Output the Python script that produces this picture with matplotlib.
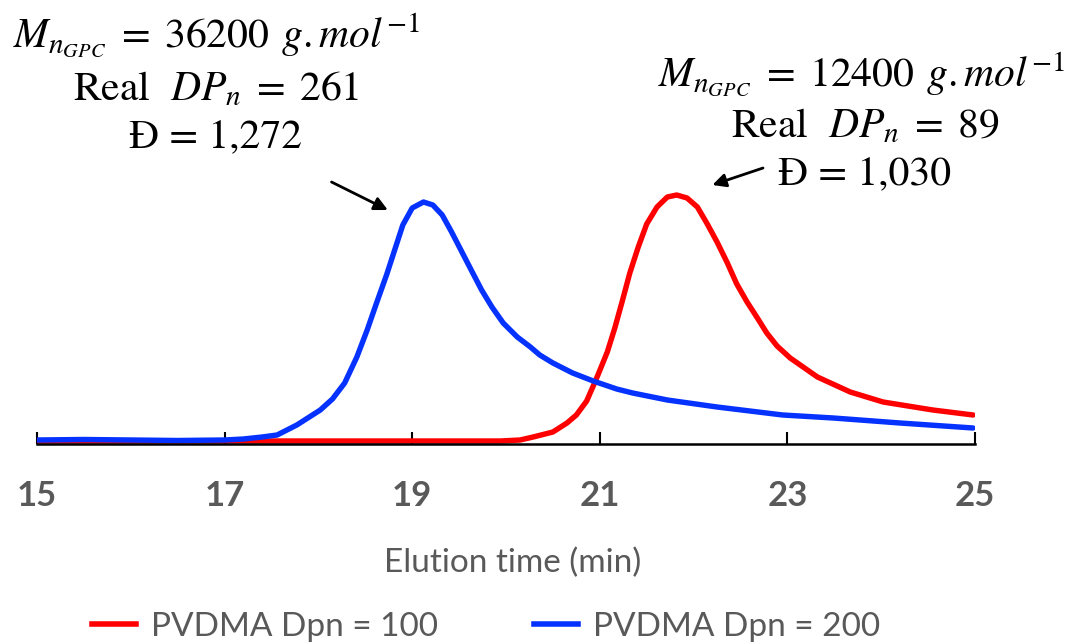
import matplotlib
matplotlib.use("Agg")
import matplotlib.pyplot as plt
from matplotlib.lines import Line2D

plt.rcParams['mathtext.fontset'] = 'stix'

# elution time (min) / detector signal (a.u.)
t_100 = [15.0, 16.0, 17.0, 18.0, 19.0, 19.94, 20.15, 20.29, 20.50, 20.65, 20.75, 20.86, 20.93,
         20.98, 21.08, 21.16, 21.24, 21.32, 21.41, 21.50, 21.61, 21.72, 21.82, 21.93, 22.04,
         22.14, 22.25, 22.36, 22.46, 22.57, 22.68, 22.78, 22.89, 23.03, 23.32, 23.67, 24.02,
         24.55, 24.98]
sig_100 = [0, 0, 0, 0, 0, 0, 1, 4, 9, 18, 26, 40, 55,
           66, 89, 113, 140, 168, 194, 217, 234, 244, 246, 243, 234,
           218, 199, 178, 157, 139, 123, 108, 95, 83, 64, 49, 39,
           31, 26]

t_200 = [15.0, 15.5, 16.0, 16.5, 17.0, 17.2, 17.4, 17.56, 17.77, 18.02, 18.15, 18.28, 18.41,
         18.52, 18.62, 18.73, 18.82, 18.90, 19.00, 19.12, 19.22, 19.32, 19.42, 19.53, 19.64,
         19.74, 19.85, 19.97, 20.12, 20.26, 20.36, 20.50, 20.71, 20.93, 21.18, 21.35, 21.72,
         22.25, 22.95, 23.49, 24.20, 24.98]
sig_200 = [1, 1.5, 1, 0.5, 1, 2, 4, 6, 16, 31, 42, 58, 84,
           111, 138, 167, 193, 216, 233, 239, 236, 226, 209, 189, 169,
           151, 134, 118, 104, 94, 86, 78, 68, 60, 52, 48, 41,
           34, 26, 23, 18, 13]

xticks = [15, 17, 19, 21, 23, 25]
labels = ["PVDMA Dpn = 100", "PVDMA Dpn = 200"]
colors = ["#ff0000", "#0532ff"]
grey = "#595959"

fig = plt.figure(figsize=(10.75, 6.44), dpi=100)
ax = fig.add_axes([37 / 1075, 200 / 644, 938 / 1075, 264 / 644])

ax.plot(t_100, sig_100, color=colors[0], lw=3.9, solid_joinstyle='round', solid_capstyle='round')
ax.plot(t_200, sig_200, color=colors[1], lw=3.9, solid_joinstyle='round', solid_capstyle='round')

ax.set_xlim(15, 25)
ax.set_ylim(-3, 261)
for s in ['top', 'right', 'left']:
    ax.spines[s].set_visible(False)
ax.spines['bottom'].set_linewidth(1.8)
ax.set_yticks([])
ax.set_xticks(xticks)
ax.tick_params(axis='x', direction='in', length=8.5, width=1.5, pad=26,
               labelsize=25, labelcolor=grey)
for lab in ax.get_xticklabels():
    lab.set_fontfamily('Lato')
    lab.set_fontweight('bold')

ax.set_xlabel("Elution time (min)", fontsize=24, color=grey, family='Lato')
ax.xaxis.set_label_coords(0.507, -0.451)
ax.xaxis.label.set_va('center')

# legend under the axis title
handles = [Line2D([], [], color=c, lw=4) for c in colors]
leg = fig.legend(handles, labels, loc='center', bbox_to_anchor=(486 / 1075, 17 / 644),
                 ncol=2, frameon=False, handlelength=1.3, handletextpad=0.45,
                 columnspacing=2.9, prop={'family': 'Lato', 'size': 24})
for txt in leg.get_texts():
    txt.set_color(grey)

# GPC results for each polymer
tkw = dict(ha='center', va='baseline', fontsize=30, family='STIXGeneral')
fig.text(0.2009, 0.9255, r"$M_{n_{GPC}}\;=\;36200\;\,g.mol^{-1}$", **tkw)
fig.text(0.2009, 0.8447, r"Real  $DP_n\;=\;261$", **tkw)
fig.text(0.2009, 0.7702, "Đ = 1,272", **tkw)

fig.text(0.801, 0.8649, r"$M_{n_{GPC}}\;=\;12400\;\,g.mol^{-1}$", **tkw)
fig.text(0.8047, 0.7873, r"Real  $DP_n\;=\;89$", **tkw)
fig.text(0.8047, 0.7127, "Đ = 1,030", **tkw)

akw = dict(arrowstyle='-|>', color='k', lw=2, mutation_scale=20, shrinkA=0, shrinkB=0)
ax.annotate('', xy=(18.74, 231), xytext=(18.14, 259), arrowprops=akw, annotation_clip=False)
ax.annotate('', xy=(22.20, 256), xytext=(22.74, 273), arrowprops=akw, annotation_clip=False)

fig.savefig("out.png", dpi=100, facecolor='white')
